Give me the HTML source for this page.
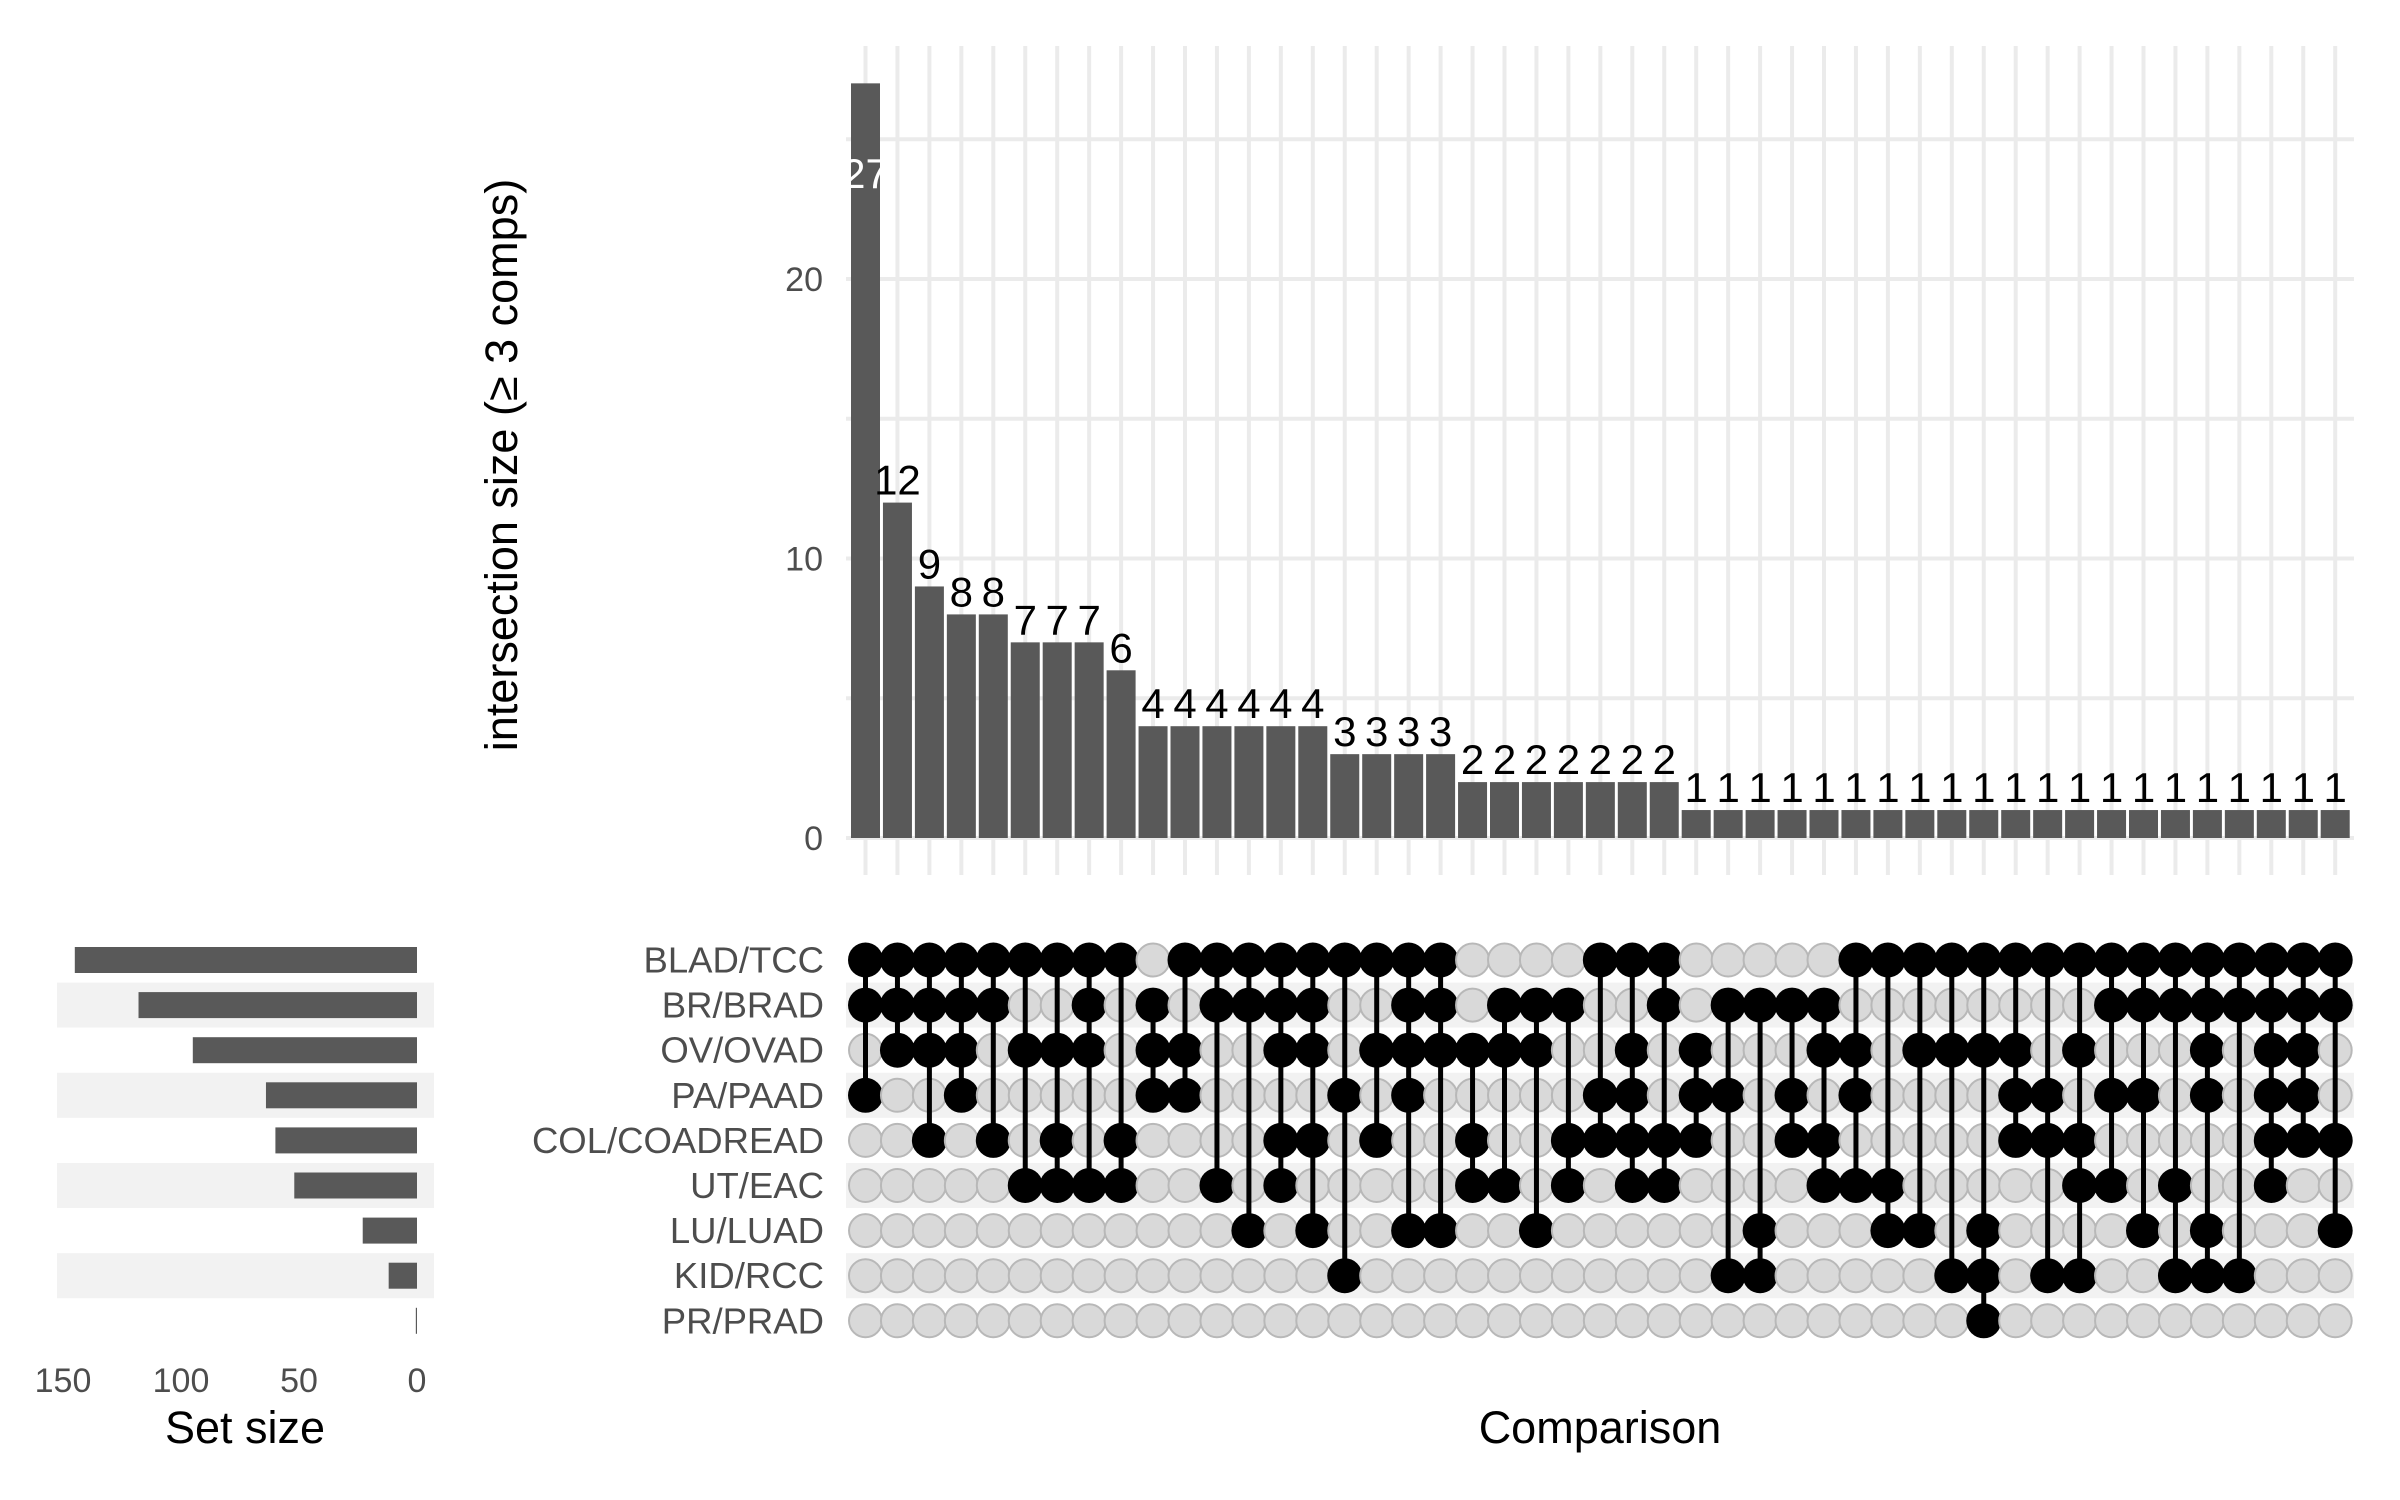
<!DOCTYPE html>
<html><head><meta charset="utf-8"><style>
html,body{margin:0;padding:0;background:#fff;}
svg{display:block;font-family:"Liberation Sans",sans-serif;}
</style></head><body>
<svg id="s" width="2400" height="1500" viewBox="0 0 2400 1500" xmlns="http://www.w3.org/2000/svg">
<rect width="2400" height="1500" fill="#fff"/>
<g id="g"></g>
<text x="505" y="465" transform="rotate(-90 505 465)" text-anchor="middle" dominant-baseline="middle" font-size="45" fill="#000">intersection size (≥ 3 comps)</text>
<text x="245" y="1443" text-anchor="middle" font-size="45" fill="#000">Set size</text>
<text x="1600" y="1443" text-anchor="middle" font-size="45" fill="#000">Comparison</text>
</svg>
<script>
var NS="http://www.w3.org/2000/svg",g=document.getElementById("g");
function el(t,a,txt){var e=document.createElementNS(NS,t);for(var k in a)e.setAttribute(k,a[k]);if(txt!==undefined)e.textContent=txt;g.appendChild(e);return e;}
var vals=[27,12,9,8,8,7,7,7,6,4,4,4,4,4,4,3,3,3,3,2,2,2,2,2,2,2];
while(vals.length<47)vals.push(1);
var cols=[[0,1,3],[0,1,2],[0,1,2,4],[0,1,2,3],[0,1,4],[0,2,5],[0,2,4,5],[0,1,2,5],[0,4,5],[1,2,3],[0,2,3],[0,1,5],[0,1,6],[0,1,2,4,5],[0,1,2,4,6],[0,3,7],
[0,2,4],[0,1,2,3,6],[0,1,2,6],[2,4,5],[1,2,5],[1,2,6],[1,4,5],[0,3,4],[0,2,3,4,5],[0,1,4,5],[2,3,4],[1,3,7],[1,6,7],[1,3,4],[1,2,4,5],
[0,2,3,5],[0,5,6],[0,2,6],[0,2,7],[0,2,6,7,8],[0,2,3,4],[0,3,4,7],[0,2,4,5,7],[0,1,3,5],[0,1,3,6],[0,1,5,7],[0,1,2,3,6,7],[0,1,7],[0,1,2,3,4,5],[0,1,2,3,4],[0,1,4,6]];
var names=["BLAD/TCC","BR/BRAD","OV/OVAD","PA/PAAD","COL/COADREAD","UT/EAC","LU/LUAD","KID/RCC","PR/PRAD"];
var sizes=[145,118,95,64,60,52,23,12,0.5];
function cx(i){return 865.5+i*31.95;}
function ry(r){return 960+r*45.1;}
var y0=838,pu=27.95;
for(var k=0;k<=5;k++){var y=y0-k*5*pu;el("line",{x1:846,x2:2354,y1:y,y2:y,stroke:"#ebebeb","stroke-width":4});}
for(var i=0;i<47;i++){el("line",{x1:cx(i),x2:cx(i),y1:46,y2:875,stroke:"#ebebeb","stroke-width":4});}
[[0,0],[10,10],[20,20]].forEach(function(t){el("text",{x:823,y:y0-t[0]*pu+12,"text-anchor":"end","font-size":34,fill:"#4d4d4d"},String(t[1]));});
for(var i=0;i<47;i++){var h=vals[i]*pu;el("rect",{x:cx(i)-14.5,y:y0-h,width:29,height:h,fill:"#595959"});
 if(i==0)el("text",{x:cx(i),y:188,"text-anchor":"middle","font-size":42,fill:"#fff"},"27");
 else el("text",{x:cx(i),y:y0-h-8,"text-anchor":"middle","font-size":42,fill:"#000"},String(vals[i]));}
[1,3,5,7].forEach(function(r){el("rect",{x:846,y:ry(r)-22.5,width:1508,height:45,fill:"#f2f2f2"});el("rect",{x:57,y:ry(r)-22.5,width:377,height:45,fill:"#f2f2f2"});});
for(var r=0;r<9;r++){var w=sizes[r]*2.36;el("rect",{x:417-w,y:ry(r)-13,width:w,height:26,fill:"#595959"});
 el("text",{x:824,y:ry(r)+12.5,"text-anchor":"end","font-size":36.5,fill:"#4d4d4d"},names[r]);}
[[150,63],[100,181],[50,299],[0,417]].forEach(function(t){el("text",{x:t[1],y:1392,"text-anchor":"middle","font-size":34,fill:"#4d4d4d"},String(t[0]));});
for(var i=0;i<47;i++){var on=cols[i];
 for(var r=0;r<9;r++){if(on.indexOf(r)<0)el("circle",{cx:cx(i),cy:ry(r),r:16.5,fill:"#d9d9d9",stroke:"#b8b8b8","stroke-width":2});}
 var mn=Math.min.apply(null,on),mx=Math.max.apply(null,on);
 el("line",{x1:cx(i),x2:cx(i),y1:ry(mn),y2:ry(mx),stroke:"#000","stroke-width":5});
 on.forEach(function(r){el("circle",{cx:cx(i),cy:ry(r),r:17.5,fill:"#000"});});}
</script>
</body></html>
